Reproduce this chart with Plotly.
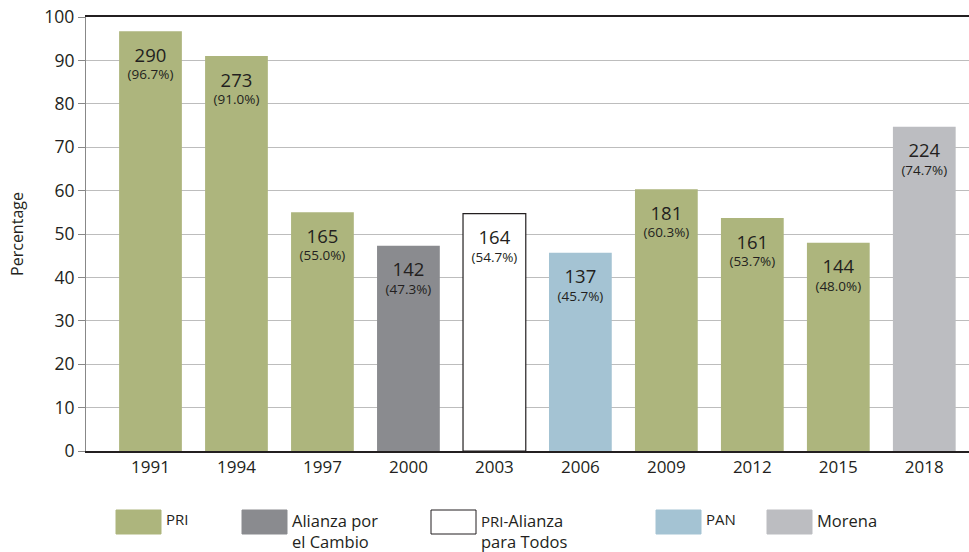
import plotly.graph_objects as go

years = ["1991", "1994", "1997", "2000", "2003", "2006", "2009", "2012", "2015", "2018"]
seats = [290, 273, 165, 142, 164, 137, 181, 161, 144, 224]
pct = [96.7, 91.0, 55.0, 47.3, 54.7, 45.7, 60.3, 53.7, 48.0, 74.7]
party = ["PRI", "PRI", "PRI", "Alianza", "PRI-Alianza", "PAN", "PRI", "PRI", "PRI", "Morena"]

parties = ["PRI", "Alianza", "PRI-Alianza", "PAN", "Morena"]
legend_labels = ["<span style='font-size:15px'>PRI</span>",
                 "Alianza por<br>el Cambio",
                 "<span style='font-size:15px'>PRI-</span>Alianza<br>para Todos",
                 "<span style='font-size:15px'>PAN</span>",
                 "Morena"]
colors = {"PRI": "#adb57d", "Alianza": "#8a8b8f", "PRI-Alianza": "#ffffff",
          "PAN": "#a4c3d3", "Morena": "#bcbdc1"}
txt = "#231f20"
font = "Open Sans"

W, H = 969, 552
L, R, T, B = 86, 0, 17, 101
pw, ph = W - L - R, H - T - B

def px(x):
    return (x - L) / pw

def py(y):
    return (H - B - y) / ph

fig = go.Figure()

xs = list(range(len(years)))
for p in parties:
    idx = [i for i in xs if party[i] == p]
    fig.add_trace(go.Bar(
        x=idx,
        y=[pct[i] for i in idx],
        width=0.73,
        marker=dict(color=colors[p],
                    line=dict(color=txt if p == "PRI-Alianza" else colors[p],
                              width=1.2 if p == "PRI-Alianza" else 0)),
        text=["<span style='font-size:9px'> </span><br><span style='font-size:18.5px'>%d</span><br>(%.1f%%)"
              % (seats[i], pct[i]) for i in idx],
        textposition="inside",
        insidetextanchor="end",
        constraintext="none",
        textfont=dict(family=font, size=13.5, color=txt),
        showlegend=False,
        hoverinfo="skip",
    ))

# custom legend with wide swatches
leg_x = [116, 242, 431, 656, 767]
for p, lab, x0 in zip(parties, legend_labels, leg_x):
    fig.add_shape(type="rect", xref="paper", yref="paper",
                  x0=px(x0), x1=px(x0 + 45), y0=py(534), y1=py(510),
                  fillcolor=colors[p],
                  line=dict(color=txt if p == "PRI-Alianza" else colors[p], width=1))
    fig.add_annotation(xref="paper", yref="paper", x=px(x0 + 49), y=py(508),
                       xanchor="left", yanchor="top", align="left", showarrow=False,
                       text=lab, font=dict(family=font, size=16.5, color=txt),
                       borderpad=0)

fig.update_layout(
    width=W, height=H,
    margin=dict(l=L, r=R, t=T, b=B, autoexpand=False),
    plot_bgcolor="white", paper_bgcolor="white",
    barmode="overlay",
    font=dict(family=font, color=txt),
    xaxis=dict(
        range=[-0.75, 9.52], automargin=False,
        tickvals=xs, ticktext=years,
        ticks="", showgrid=False, zeroline=False,
        showline=True, linecolor=txt, linewidth=1.5, mirror=True,
        tickfont=dict(size=17, color=txt),
    ),
    xaxis2=dict(
        overlaying="x", anchor="y", matches="x", automargin=False,
        range=[-0.75, 9.52],
        tickvals=[i + 0.5 for i in xs[:-1]],
        ticks="outside", ticklen=6, tickwidth=1.2, tickcolor="#555555",
        showticklabels=False, showgrid=False, zeroline=False, showline=False,
    ),
    yaxis=dict(
        range=[0, 100], dtick=10, automargin=False,
        ticks="outside", ticklen=7, tickwidth=1.2, tickcolor="#888888",
        showline=True, linecolor="#888888", linewidth=1.2,
        gridcolor="#bdbdbd", gridwidth=1.3, zeroline=False,
        tickfont=dict(size=17.5, color=txt),
        title=dict(text="Percentage", font=dict(size=16, color=txt), standoff=16),
    ),
)

fig.write_html("out.html", config={"displayModeBar": False},
               post_script="document.body.style.margin='0';")
